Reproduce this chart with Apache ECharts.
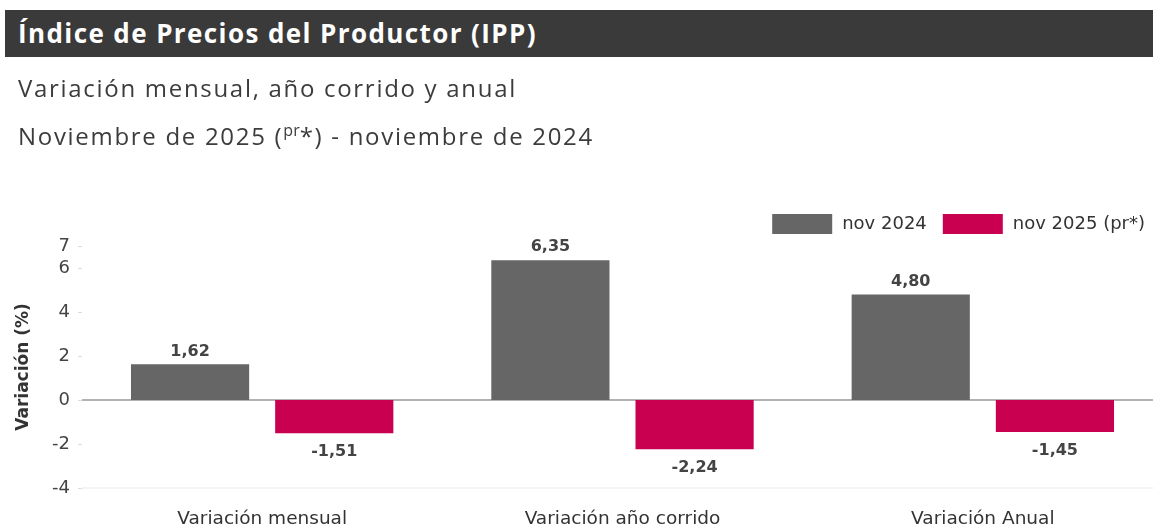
<!DOCTYPE html>
<html>
<head>
<meta charset="utf-8">
<script src="https://cdn.jsdelivr.net/npm/echarts@6/dist/echarts.min.js"></script>
<style>
  html, body { margin: 0; padding: 0; background: #fff; overflow: hidden; }
  #wrap { position: relative; width: 1153px; height: 526px; overflow: hidden; }
  #head {
    position: absolute; left: 5px; top: 10px; width: 1148px; height: 47px;
    background: #3a3a3a; color: #fff; font: bold 26px 'Open Sans', sans-serif;
    letter-spacing: 1.4px; line-height: 47px; padding-left: 13px; box-sizing: border-box;
  }
  .sub { position: absolute; left: 18px; color: #3c3c3c; font: 24px 'Open Sans', sans-serif; letter-spacing: 1.7px; line-height: 32px; }
  .sub sup { font-size: 16px; letter-spacing: 0; }
  #chart { position: absolute; left: 0; top: 0; width: 1153px; height: 526px; }
</style>
</head>
<body>
<div id="wrap">
  <div id="chart"></div>
  <div id="head">Índice de Precios del Productor (IPP)</div>
  <div class="sub" style="top:72px">Variación mensual, año corrido y anual</div>
  <div class="sub" style="top:114px">Noviembre de 2025 (<sup>pr</sup>*) - noviembre de 2024</div>
</div>
<script>
// categorias y series
const categories = ['Variación mensual', 'Variación año corrido', 'Variación Anual']
const nov2024 = [1.62, 6.35, 4.80]
const nov2025 = [-1.51, -2.24, -1.45]
const seriesNames = ['nov 2024', 'nov 2025 (pr*)']
const colors = ['#666666', '#c8004f']

const chart = echarts.init(document.getElementById('chart'))

const toData = (arr) => arr.map(v => ({
  value: v,
  label: { position: v < 0 ? 'bottom' : 'top', distance: v < 0 ? 11 : 5 }
}))

const labelStyle = {
  show: true,
  color: '#444',
  fontWeight: 'bold',
  fontSize: 16,
  fontFamily: 'DejaVu Sans',
  formatter: (p) => p.value.toFixed(2).replace('.', ',')
}

chart.setOption({
  animation: false,
  color: colors,
  legend: {
    top: 209,
    right: 3,
    itemWidth: 60,
    itemHeight: 20,
    itemGap: 16,
    icon: 'rect',
    textStyle: { color: '#333', fontSize: 18, fontFamily: 'DejaVu Sans', padding: [0, 0, 0, 5] },
    data: seriesNames
  },
  // el área de trazado sobrepasa el borde derecho, como en el original
  grid: { left: 82, right: -10, top: 246, bottom: 38, outerBoundsMode: 'none' },
  xAxis: {
    type: 'category',
    data: categories,
    axisLine: { show: false },
    axisTick: { show: false },
    axisLabel: { color: '#333', fontSize: 18.5, fontFamily: 'DejaVu Sans', margin: 22 }
  },
  yAxis: {
    type: 'value',
    min: -4,
    max: 7,
    interval: 2,
    name: 'Variación (%)',
    nameLocation: 'middle',
    nameGap: 50,
    nameTextStyle: { color: '#333', fontWeight: 'bold', fontSize: 17, fontFamily: 'DejaVu Sans' },
    axisLine: { show: false },
    axisTick: { show: true, length: 4, lineStyle: { color: '#ddd' } },
    axisLabel: { color: '#444', fontSize: 18, fontFamily: 'DejaVu Sans', margin: 12 },
    splitLine: {
      show: true,
      lineStyle: { color: ['#f0f0f0', 'transparent', '#999999', 'transparent', 'transparent', 'transparent', 'transparent'], width: 1.5 }
    }
  },
  series: [
    {
      name: seriesNames[0],
      type: 'bar',
      barWidth: '32.8%',
      barGap: '22%',
      data: toData(nov2024),
      label: labelStyle
    },
    {
      name: seriesNames[1],
      type: 'bar',
      barWidth: '32.8%',
      data: toData(nov2025),
      label: labelStyle
    }
  ]
})
</script>
</body>
</html>
